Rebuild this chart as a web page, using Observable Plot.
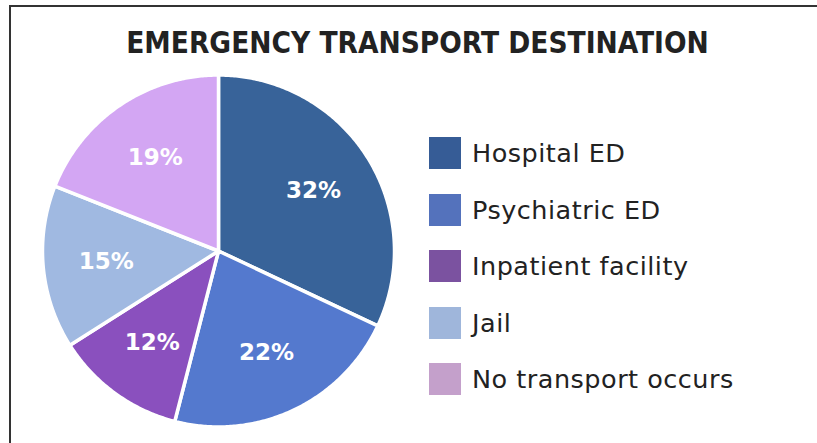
<!DOCTYPE html>
<html>
<head>
<meta charset="utf-8">
<script src="https://cdn.jsdelivr.net/npm/d3@7"></script>
<script src="https://cdn.jsdelivr.net/npm/@observablehq/plot@0.6"></script>
<style>
  html, body { margin: 0; padding: 0; background: #fff; }
  body { width: 817px; height: 443px; position: relative; overflow: hidden; font-family: "DejaVu Sans", Verdana, sans-serif; }
  #frame { position: absolute; left: 9px; top: 5px; width: 820px; height: 450px; border-top: 2px solid #333; border-left: 2px solid #333; box-sizing: border-box; }
  #title { position: absolute; top: 28.7px; left: 0; width: 835px; text-align: center; font-family: "DejaVu Sans Condensed", "DejaVu Sans", sans-serif; font-stretch: condensed; font-weight: bold; font-size: 29.5px; line-height: 1; color: #222; white-space: nowrap; }
  #chart { position: absolute; left: 0; top: 60px; }
  #legend { position: absolute; left: 429px; top: 137px; }
  .row { display: flex; align-items: center; height: 32px; margin-bottom: 24.5px; }
  .sw { width: 32px; height: 32px; margin-right: 11px; }
  .lab { font-size: 25.5px; letter-spacing: 0.5px; color: #222; white-space: nowrap; line-height: 32px; }
</style>
</head>
<body>
<div id="frame"></div>
<div id="title">EMERGENCY TRANSPORT DESTINATION</div>
<div id="chart"></div>
<div id="legend"></div>
<script>
const categories = ["Hospital ED", "Psychiatric ED", "Inpatient facility", "Jail", "No transport occurs"];
const values = [32, 22, 12, 15, 19];
const labels = ["32%", "22%", "12%", "15%", "19%"];
const pieColors = ["#386399", "#5479CE", "#8A50BE", "#A0B9E1", "#D3A6F3"];
const legendColors = ["#365C96", "#5472BC", "#7B52A0", "#9FB6DB", "#C4A0CB"];

const arcs = d3.pie().sort(null).value(d => d)(values);

// polygon points for each wedge (angle measured clockwise from 12 o'clock)
const pts = [];
arcs.forEach((a, i) => {
  const cat = categories[i];
  pts.push({cat, x: 0, y: 0});
  const n = Math.max(2, Math.ceil((a.endAngle - a.startAngle) / 0.01));
  for (let k = 0; k <= n; k++) {
    const t = a.startAngle + (a.endAngle - a.startAngle) * k / n;
    pts.push({cat, x: Math.sin(t), y: Math.cos(t)});
  }
});
const labelR = 0.64;
const labs = arcs.map((a, i) => {
  const m = (a.startAngle + a.endAngle) / 2;
  return {label: labels[i], x: labelR * Math.sin(m), y: labelR * Math.cos(m)};
});

const plot = Plot.plot({
  width: 817,
  height: 383,
  margin: 0,
  x: {domain: [-1, 1], range: [42, 394], axis: null},
  y: {domain: [-1, 1], range: [366.5, 14.5], axis: null},
  color: {domain: categories, range: pieColors},
  style: {background: "transparent", overflow: "visible"},
  marks: [
    Plot.line(pts, {x: "x", y: "y", z: "cat", fill: "cat", stroke: "white", strokeWidth: 3.5, strokeLinejoin: "round", curve: "linear-closed"}),
    Plot.text(labs, {x: "x", y: "y", text: "label", fill: "white", fontSize: 23, fontWeight: "bold", fontFamily: "DejaVu Sans, Verdana, sans-serif"})
  ]
});
document.getElementById("chart").appendChild(plot);

const leg = document.getElementById("legend");
categories.forEach((c, i) => {
  const row = document.createElement("div");
  row.className = "row";
  const sw = document.createElement("div");
  sw.className = "sw";
  sw.style.background = legendColors[i];
  const lab = document.createElement("div");
  lab.className = "lab";
  lab.textContent = c;
  row.appendChild(sw);
  row.appendChild(lab);
  leg.appendChild(row);
});
</script>
</body>
</html>
